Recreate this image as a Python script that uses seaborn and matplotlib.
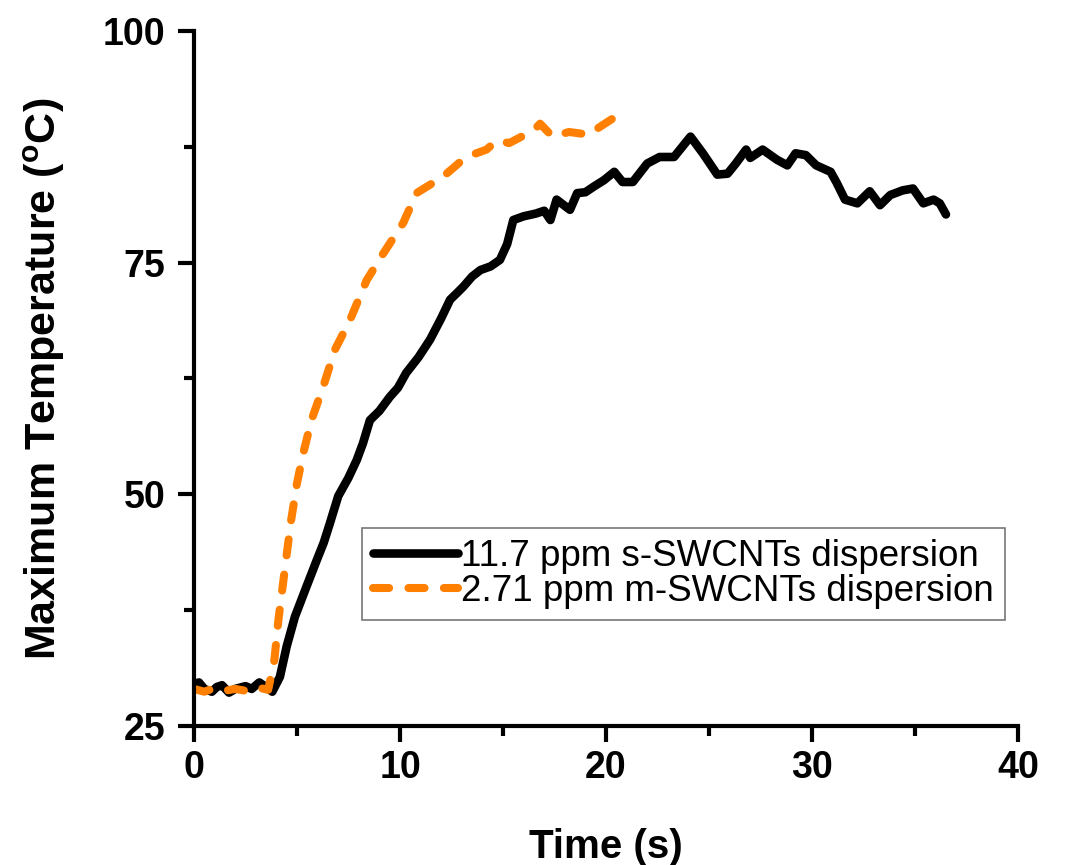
import matplotlib
matplotlib.use('Agg')
import matplotlib.pyplot as plt
from matplotlib.ticker import MultipleLocator
import seaborn as sns
import pandas as pd

# s-SWCNTs (black, solid)
time_s = [0.0, 0.24, 0.5, 0.87, 1.1, 1.36, 1.7, 2.0, 2.5, 2.8,
          3.17, 3.5, 3.8, 4.17, 4.5, 4.9, 5.47, 5.96, 6.3, 6.6,
          7.0, 7.5, 7.9, 8.2, 8.54, 9.0, 9.5, 9.9, 10.3, 10.9,
          11.46, 12.0, 12.43, 12.8, 13.07, 13.5, 13.9, 14.4, 14.85, 15.2,
          15.5, 16.0, 16.6, 17.0, 17.3, 17.6, 18.25, 18.6, 19.0, 19.4,
          19.9, 20.4, 20.8, 21.3, 22.0, 22.6, 23.3, 24.1, 24.7, 25.4,
          25.9, 26.3, 26.8, 27.0, 27.6, 28.3, 28.8, 29.2, 29.7, 30.2,
          30.9, 31.2, 31.6, 32.2, 32.8, 33.3, 33.8, 34.4, 34.9, 35.4,
          35.9, 36.2, 36.5]
temp_s = [29.5, 29.7, 29.0, 28.7, 29.2, 29.4, 28.6, 29.0, 29.3, 29.0,
          29.7, 29.2, 28.7, 30.3, 33.6, 36.8, 40.1, 42.9, 44.8, 46.9,
          49.8, 51.8, 53.7, 55.5, 58.0, 59.0, 60.5, 61.5, 63.1, 64.8,
          66.7, 69.0, 71.0, 71.8, 72.4, 73.5, 74.2, 74.6, 75.3, 77.0,
          79.6, 80.0, 80.3, 80.6, 79.6, 81.8, 80.7, 82.5, 82.6, 83.2,
          83.9, 84.8, 83.7, 83.7, 85.7, 86.4, 86.4, 88.6, 86.8, 84.5,
          84.6, 85.7, 87.2, 86.3, 87.2, 86.1, 85.5, 86.8, 86.6, 85.5,
          84.8, 83.6, 81.8, 81.4, 82.7, 81.2, 82.3, 82.8, 83.0, 81.4,
          81.8, 81.4, 80.2]

# m-SWCNTs (orange, dashed)
time_m = [0.0, 0.5, 1.0, 1.5, 2.0, 2.5, 3.0, 3.6, 3.9, 4.1,
          4.3, 4.5, 4.7, 5.0, 5.3, 5.7, 6.27, 6.84, 7.57, 8.38,
          9.19, 10.16, 10.8, 12.1, 13.2, 14.2, 14.7, 15.3, 16.5, 16.8,
          17.4, 18.2, 19.2, 19.6, 20.7]
temp_m = [29.0, 28.7, 29.1, 28.8, 29.0, 28.8, 29.2, 28.9, 32.1, 36.5,
          40.0, 43.5, 47.0, 51.2, 54.4, 58.0, 61.6, 65.6, 68.8, 73.1,
          76.0, 79.3, 82.5, 84.3, 86.4, 87.2, 88.2, 87.9, 89.3, 90.0,
          88.6, 89.1, 88.8, 89.5, 91.1]

labels = ['11.7 ppm s-SWCNTs dispersion', '2.71 ppm m-SWCNTs dispersion']

df_s = pd.DataFrame({'Time': time_s, 'Temp': temp_s})
df_m = pd.DataFrame({'Time': time_m, 'Temp': temp_m})

sns.set_theme(style='ticks', rc={'text.color': 'black', 'axes.labelcolor': 'black',
                                 'axes.edgecolor': 'black', 'xtick.color': 'black',
                                 'ytick.color': 'black'})
plt.rcParams['font.family'] = ['Liberation Sans', 'DejaVu Sans']

fig = plt.figure(figsize=(10.73, 8.65), dpi=100)
ax = fig.add_axes([0.1808, 0.1607, 0.768, 0.8035])

sns.lineplot(x='Time', y='Temp', data=df_s, sort=False, color='black',
             linewidth=6.2, label=labels[0], ax=ax)
sns.lineplot(x='Time', y='Temp', data=df_m, sort=False, color='#FF8000',
             linewidth=5.8, label=labels[1], ax=ax)
ax.lines[1].set_linestyle((0, (2.0, 2.4)))
ax.lines[1].set_dash_capstyle('round')
ax.lines[0].set_solid_capstyle('round')
ax.lines[0].set_solid_joinstyle('round')

ax.set_xlim(0, 40)
ax.set_ylim(25, 100)
ax.xaxis.set_major_locator(MultipleLocator(10))
ax.xaxis.set_minor_locator(MultipleLocator(5))
ax.yaxis.set_major_locator(MultipleLocator(25))
ax.yaxis.set_minor_locator(MultipleLocator(12.5))

sns.despine(ax=ax)
for side in ['left', 'bottom']:
    ax.spines[side].set_linewidth(3)
ax.tick_params(which='major', direction='out', length=11.5, width=3)
ax.tick_params(which='minor', direction='out', length=7, width=3)
ax.tick_params(axis='x', which='major', pad=6)
ax.tick_params(axis='y', which='major', pad=9)

for lab in ax.get_xticklabels() + ax.get_yticklabels():
    lab.set_fontsize(27)
    lab.set_fontweight('bold')

ax.set_xlabel('Time (s)', fontsize=29, fontweight='bold', labelpad=30)
ax.set_ylabel('Maximum Temperature ($\\mathregular{^oC}$)', fontsize=31,
              fontweight='bold', labelpad=26)

leg = ax.legend(loc='upper left', bbox_to_anchor=(0.204, 0.285), fontsize=26.5,
                frameon=True, fancybox=False, handlelength=2.3,
                handletextpad=0.1, borderpad=0.3, labelspacing=0.0,
                borderaxespad=0)
leg.get_frame().set_edgecolor('#555555')
leg.get_frame().set_linewidth(1.2)

plt.savefig('out.png', dpi=100)
plt.close()
